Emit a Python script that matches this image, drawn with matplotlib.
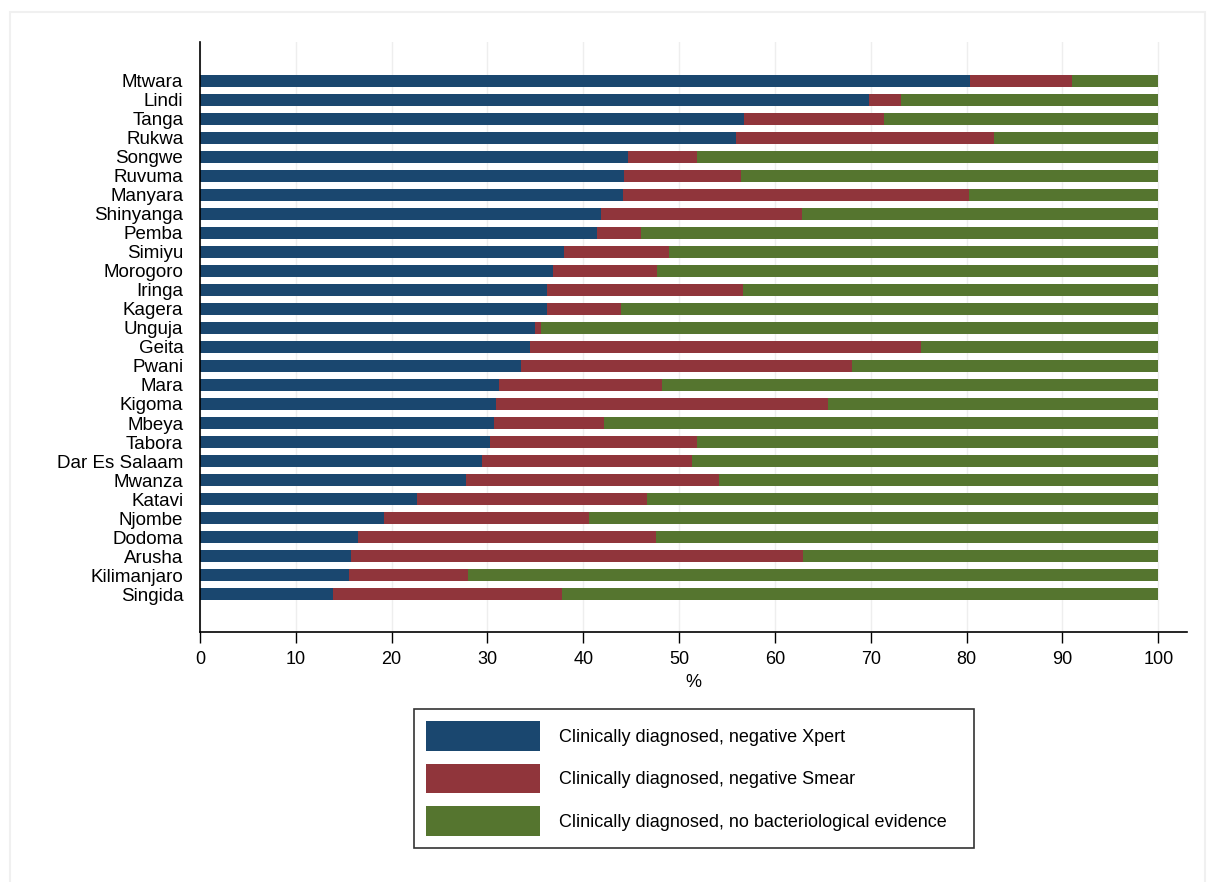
import numpy as np
import matplotlib.pyplot as plt
from matplotlib.patches import Rectangle

regions = ['Mtwara', 'Lindi', 'Tanga', 'Rukwa', 'Songwe', 'Ruvuma', 'Manyara',
           'Shinyanga', 'Pemba', 'Simiyu', 'Morogoro', 'Iringa', 'Kagera',
           'Unguja', 'Geita', 'Pwani', 'Mara', 'Kigoma', 'Mbeya', 'Tabora',
           'Dar Es Salaam', 'Mwanza', 'Katavi', 'Njombe', 'Dodoma', 'Arusha',
           'Kilimanjaro', 'Singida']

# % of clinically diagnosed cases in each category
neg_xpert = [80.4, 69.8, 56.8, 55.9, 44.7, 44.3, 44.1, 41.9, 41.4, 38.0,
             36.8, 36.2, 36.2, 35.0, 34.4, 33.5, 31.2, 30.9, 30.7, 30.3,
             29.4, 27.8, 22.7, 19.2, 16.5, 15.8, 15.6, 13.9]
neg_smear = [10.6, 3.4, 14.6, 27.0, 7.2, 12.2, 36.1, 20.9, 4.6, 10.9,
             10.9, 20.5, 7.7, 0.6, 40.8, 34.5, 17.0, 34.6, 11.5, 21.6,
             21.9, 26.4, 24.0, 21.4, 31.1, 47.1, 12.4, 23.9]
no_bact = [100 - a - b for a, b in zip(neg_xpert, neg_smear)]

labels = ['Clinically diagnosed, negative Xpert',
          'Clinically diagnosed, negative Smear',
          'Clinically diagnosed, no bacteriological evidence']
colors = ['#1a476f', '#90353b', '#55752f']

plt.rcParams['font.family'] = ['Liberation Sans', 'DejaVu Sans']
plt.rcParams['font.size'] = 13

fig = plt.figure(figsize=(12.14, 8.82), dpi=100)
ax = fig.add_axes([0.1647, 0.2834, 0.8131, 0.669])

y = np.arange(len(regions))
left = np.zeros(len(regions))
for vals, lab, col in zip([neg_xpert, neg_smear, no_bact], labels, colors):
    ax.barh(y, vals, left=left, height=0.66, color=col, label=lab, zorder=2)
    left += np.array(vals)

ax.set_xlim(0, 103)
ax.set_ylim(29.0, -2.05)
ax.set_xticks(np.arange(0, 101, 10))
ax.set_yticks(y)
ax.set_yticklabels(regions, fontsize=13.5)
ax.tick_params(axis='y', length=0, pad=12)
ax.tick_params(axis='x', length=8, width=1, pad=6, labelsize=13)
ax.set_xlabel('%', fontsize=13, labelpad=4)
ax.grid(axis='x', color='#eeeeee', linewidth=1, zorder=0)
for s in ['top', 'right']:
    ax.spines[s].set_visible(False)
for s in ['left', 'bottom']:
    ax.spines[s].set_linewidth(1.2)
    ax.spines[s].set_color('black')

# legend box stretched to a fixed width below the plot
handles, labs = ax.get_legend_handles_labels()
leg = fig.legend(handles, labs, loc='center',
                 bbox_to_anchor=(0.3410, 0.0374, 0.4613, 0.1599), mode='expand',
                 borderaxespad=0, ncol=1, frameon=True, fancybox=False,
                 edgecolor='black', handlelength=6.3, handleheight=2.13,
                 labelspacing=0.72, handletextpad=1.05, borderpad=0.67,
                 fontsize=13)
leg.get_frame().set_linewidth(1.2)

# faint outer frame of the graph region
fig.patches.append(Rectangle((10 / 1214, -0.05), 1195 / 1214, 1 - 12 / 882 + 0.05,
                             transform=fig.transFigure, fill=False,
                             edgecolor='#f0f0f0', linewidth=1.5))

fig.savefig('out.png', dpi=100)
